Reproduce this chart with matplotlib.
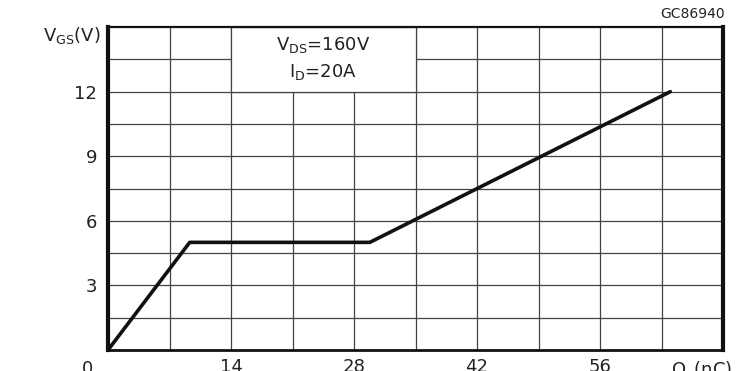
import matplotlib.pyplot as plt
from matplotlib.patches import Rectangle

# gate charge curve (Qg in nC, Vgs in V)
qg = [0, 9.3, 29.8, 64.0]
vgs = [0, 5.0, 5.0, 12.0]

x_ticks = [14, 28, 42, 56]
y_ticks = [3, 6, 9, 12]
x_grid = [7 * i for i in range(1, 10)]
y_grid = [1.5 * i for i in range(1, 10)]

fig = plt.figure(figsize=(7.49, 3.71), dpi=100)
ax = fig.add_axes([0.1442, 0.0566, 0.8211, 0.8704])
ax.set_xlim(0, 70)
ax.set_ylim(0, 15)

grid_c = '#444444'
txt_c = '#222222'
fs = 13
ax.vlines(x_grid, 0, 15, color=grid_c, lw=0.9, zorder=1)
ax.hlines(y_grid, 0, 70, color=grid_c, lw=0.9, zorder=1)

# white box holding the test conditions
ax.add_patch(Rectangle((14, 12), 21, 3, facecolor='white', edgecolor=grid_c,
                       lw=0.9, zorder=2))
ax.text(24.5, 14.15, r'V$_{\mathregular{DS}}$=160V', ha='center', va='center',
        fontsize=fs, color=txt_c, zorder=3)
ax.text(24.5, 12.9, r'I$_{\mathregular{D}}$=20A', ha='center', va='center',
        fontsize=fs, color=txt_c, zorder=3)

ax.plot(qg, vgs, color='#111111', lw=2.6, solid_capstyle='round', zorder=4)

for side, w in [('left', 3.0), ('right', 3.0), ('top', 1.6), ('bottom', 2.0)]:
    ax.spines[side].set_linewidth(w)
    ax.spines[side].set_color('#111111')

ax.set_xticks(x_ticks)
ax.set_xticklabels([str(v) for v in x_ticks], fontsize=fs)
ax.set_yticks(y_ticks)
ax.set_yticklabels([str(v) for v in y_ticks], fontsize=fs)
ax.tick_params(length=0, pad=8, colors=txt_c)
ax.tick_params(axis='x', pad=6)

ax.text(-2.3, -0.45, '0', ha='center', va='top', fontsize=fs, color=txt_c,
        clip_on=False)
ax.text(67.6, -0.45, r'Q$_{\mathregular{g}}$(nC)', ha='center', va='top', fontsize=fs,
        color=txt_c, clip_on=False)
ax.text(-0.9, 14.6, r'V$_{\mathregular{GS}}$(V)', ha='right', va='center',
        fontsize=fs, color=txt_c, clip_on=False)
ax.text(70.2, 15.3, 'GC86940', ha='right', va='bottom', fontsize=10,
        color=txt_c, clip_on=False)

fig.savefig('out.png', dpi=100)
